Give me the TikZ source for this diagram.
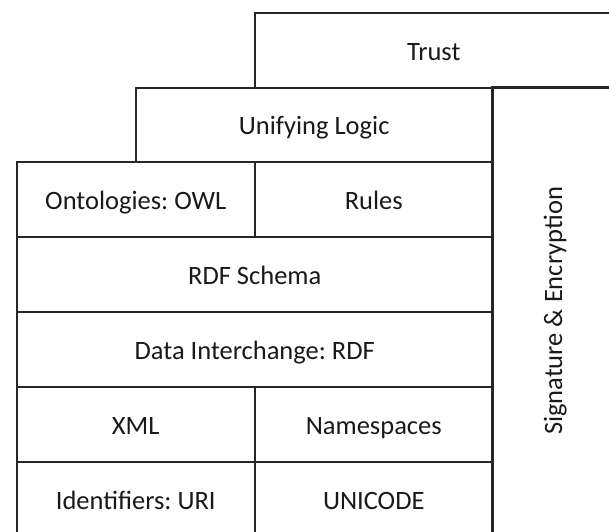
\documentclass[tikz,border=0pt]{standalone}
\usepackage{fontspec}
\setmainfont{Carlito}
\begin{document}
\frenchspacing
\begin{tikzpicture}[x=1pt,y=-1pt,
  layer/.style={draw=black!85, line width=1.5pt, inner sep=0pt, anchor=north west,
    font=\fontsize{26.5}{30}\selectfont, text=black!90, text height=20pt, text depth=0pt},
  cellw/.style={minimum width=#1pt},
  cellh/.style={minimum height=#1pt}]
\useasboundingbox (0,0) rectangle (609,531);
\clip (0,0) rectangle (609,531);
% top layers
\node[layer, cellw=358, cellh=75] (trust) at (254,12) {Trust};
\node[layer, cellw=357, cellh=74] (logic) at (135,87) {Unifying Logic};
% vertical security column, text running bottom to top
\node[layer, anchor=center, rotate=90, cellw=448, cellh=120] (sig) at (552,311) {Signature \& Encryption};
% stacked layers
\node[layer, cellw=238, cellh=75] (owl) at (16,161) {Ontologies: OWL};
\node[layer, cellw=238, cellh=75] (rules) at (254,161) {Rules};
\node[layer, cellw=476, cellh=75] (rdfs) at (16,236) {RDF Schema};
\node[layer, cellw=476, cellh=75] (rdf) at (16,311) {Data Interchange: RDF};
\node[layer, cellw=238, cellh=75] (xml) at (16,386) {XML};
\node[layer, cellw=238, cellh=75] (ns) at (254,386) {Namespaces};
\node[layer, cellw=238, cellh=75] (uri) at (16,461) {Identifiers: URI};
\node[layer, cellw=238, cellh=75] (uni) at (254,461) {UNICODE};
\end{tikzpicture}
\end{document}
